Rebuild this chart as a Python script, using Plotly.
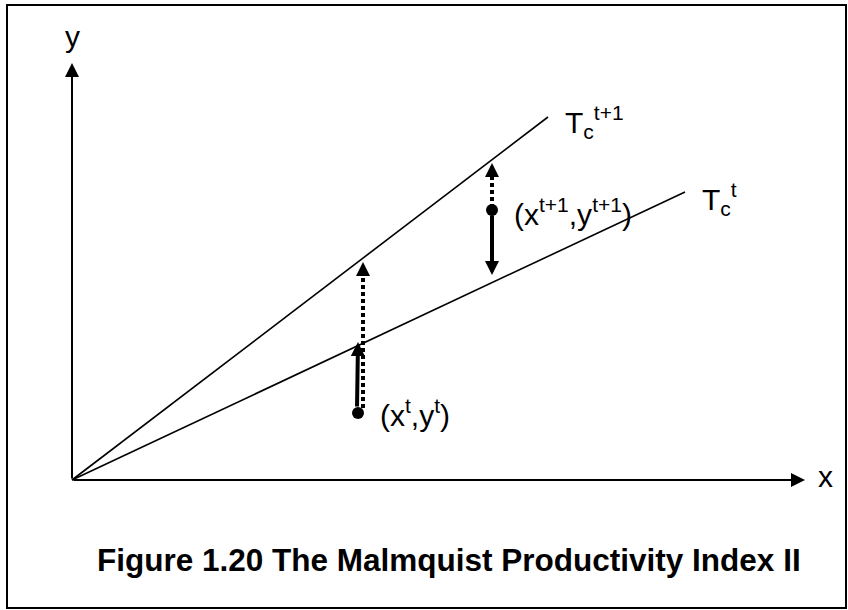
import plotly.graph_objects as go

# frontiers through the origin (end points)
frontier_t_x = [0, 613]
frontier_t_y = [0, 288]
frontier_t1_x = [0, 476]
frontier_t1_y = [0, 363]

# observed points (x^t, y^t) and (x^t+1, y^t+1)
point_x = [286, 420]
point_y = [67, 270]

# dotted distance lines up to the t+1 frontier
dotted_x = [[291, 291], [420, 420]]
dotted_y = [[72, 212], [272, 311]]

# arrows: tail x, tail y, tip x, tip y, line width, head size
arrows = [
    (0, 0, 0, 417, 2, 1.4),        # y axis
    (0, 0, 733, 0, 2, 1.4),        # x axis
    (285, 72, 286, 138, 4, 0.7),   # (x^t, y^t) up to T^t
    (420, 266, 420, 205, 4, 0.7),  # (x^t+1, y^t+1) down to T^t
    (291, 205, 291, 218, 4, 0.7),  # dotted head at T^t+1
    (420, 305, 420, 317, 4, 0.7),  # dotted head at T^t+1
]

# text labels: text, x, y, anchor
labels = [
    ('y', 0, 444, 'center'),
    ('x', 753, 4, 'center'),
    ('(x<sup>t</sup>,y<sup>t</sup>)', 306, 67, 'left'),
    ('(x<sup>t+1</sup>,y<sup>t+1</sup>)', 440, 268, 'left'),
    ('T<sub>c</sub><sup>t+1</sup>', 491, 358, 'left'),
    ('T<sub>c</sub><sup>t</sup>', 628, 281, 'left'),
]

title = 'Figure 1.20 The Malmquist Productivity Index II'

FONT = 'Liberation Sans, Arial, sans-serif'

data = []
for fx, fy in [(frontier_t_x, frontier_t_y), (frontier_t1_x, frontier_t1_y)]:
    data.append(go.Scatter(x=fx, y=fy, mode='lines',
                           line=dict(color='black', width=1.6),
                           hoverinfo='skip'))

for dx, dy in zip(dotted_x, dotted_y):
    data.append(go.Scatter(x=dx, y=dy, mode='lines',
                           line=dict(color='black', width=4, dash='4px,3px'),
                           hoverinfo='skip'))

data.append(go.Scatter(x=point_x, y=point_y, mode='markers',
                       marker=dict(size=12, color='black'),
                       hoverinfo='skip'))

annotations = []
for tx, ty, hx, hy, w, s in arrows:
    annotations.append(dict(x=hx, y=hy, ax=tx, ay=ty,
                            xref='x', yref='y', axref='x', ayref='y',
                            text='', showarrow=True,
                            arrowhead=2, arrowsize=s, arrowwidth=w,
                            arrowcolor='black', standoff=0, startstandoff=0))

for text, lx, ly, anchor in labels:
    annotations.append(dict(x=lx, y=ly, xref='x', yref='y', text=text,
                            showarrow=False, xanchor=anchor, yanchor='middle',
                            font=dict(family=FONT, size=30, color='black')))

annotations.append(dict(x=449 / 848, y=1 - 560 / 610, xref='paper', yref='paper',
                        text='<b>' + title + '</b>', showarrow=False,
                        xanchor='center', yanchor='middle',
                        font=dict(family=FONT, size=31.5, color='black')))

layout = go.Layout(width=848, height=610,
                   margin=dict(l=0, r=0, t=0, b=0),
                   paper_bgcolor='white', plot_bgcolor='white',
                   showlegend=False,
                   xaxis=dict(range=[-72, 776], visible=False, fixedrange=True),
                   yaxis=dict(range=[-130, 480], visible=False, fixedrange=True),
                   annotations=annotations,
                   shapes=[dict(type='rect', xref='paper', yref='paper',
                                x0=7 / 848, x1=846 / 848,
                                y0=1 - 608 / 610, y1=1 - 5 / 610,
                                line=dict(color='black', width=2))])

fig = go.Figure(data=data, layout=layout)
# the page has an 8px body margin by default; drop it so the figure fills the window
fig.write_html('out.html', config={'displayModeBar': False},
               post_script="document.body.style.margin='0';document.body.style.overflow='hidden';")
